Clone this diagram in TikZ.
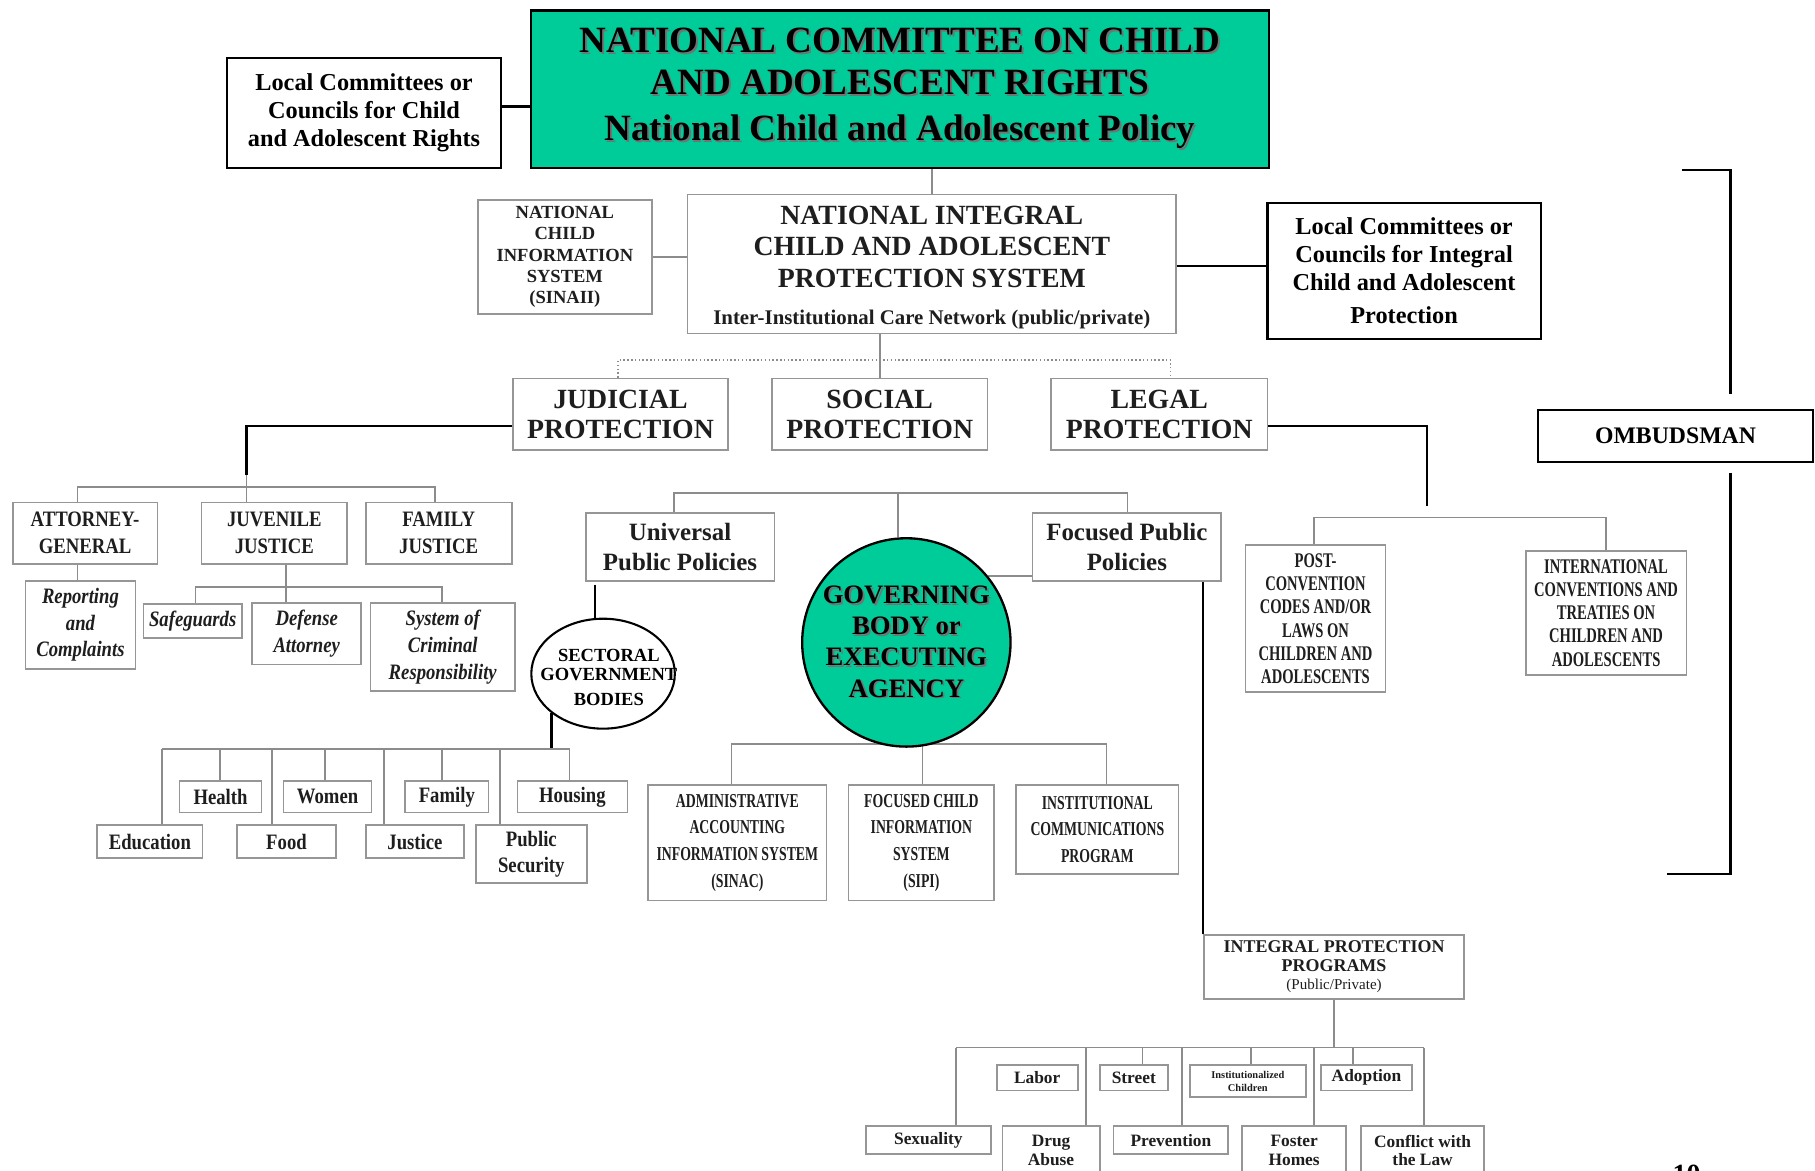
\documentclass[tikz,border=0pt]{standalone}
\usepackage{fontspec}
\setmainfont{Liberation Serif}
\newfontfamily\fcond[FakeStretch=0.85]{Liberation Serif}
\newfontfamily\fnar[FakeStretch=0.7]{Liberation Serif}
\usetikzlibrary{shapes.geometric,backgrounds}
\definecolor{teal1}{RGB}{0,204,153}
\definecolor{boxgray}{RGB}{150,150,150}
\definecolor{linegray}{RGB}{140,140,140}
\definecolor{txtdark}{RGB}{30,30,30}
\definecolor{shgray}{RGB}{115,115,115}
\newcommand\fs[2]{\fontsize{#1}{#2}\selectfont}
\newcommand\shd[1]{\leavevmode\rlap{\kern1.6pt\raisebox{-1.6pt}{\textcolor{shgray}{#1}}}#1}
\tikzset{
  gbox/.style={draw=boxgray, line width=1.5pt, fill=white, inner sep=0pt, align=center, text=txtdark},
  bbox/.style={draw=black, line width=1.8pt, fill=white, inner sep=0pt, align=center},
  gl/.style={draw=linegray, line width=1.5pt},
  blk/.style={draw=black, line width=2pt},
  gdot/.style={draw=linegray, line width=1.3pt, dotted},
  fprot/.style={font=\bfseries\fs{24}{26}},
  fjud/.style={font=\fcond\bfseries\fs{19}{23}},
  fjudi/.style={font=\fcond\bfseries\itshape\fs{19}{23}},
  fsec/.style={font=\fcond\bfseries\fs{19}{23}},
  fsys/.style={font=\fnar\bfseries\fs{17}{23}},
  flaw/.style={font=\fnar\bfseries\fs{18}{20}},
  fleaf/.style={font=\bfseries\fs{15}{16}},
  flocal/.style={font=\bfseries\fs{21}{24}},
}
\begin{document}
\begin{tikzpicture}[x=1pt,y=-1pt]
\useasboundingbox (0,0) rectangle (1568,1011);
\clip (0,0) rectangle (1568,1011);

% ---------- top level ----------
\node[draw=black, line width=2pt, fill=teal1, inner sep=0pt, align=center,
      minimum width=637pt, minimum height=136pt, font=\bfseries\fs{32}{36}] (top) at (777.5,77)
  {\shd{NATIONAL COMMITTEE ON CHILD}\\\shd{AND ADOLESCENT RIGHTS}\\[4pt]\shd{National Child and Adolescent Policy}};
\node[bbox, flocal, minimum width=237pt, minimum height=95pt] (lccl) at (314.5,97.5)
  {Local Committees or\\Councils for Child\\and Adolescent Rights};

\node[gbox, minimum width=422pt, minimum height=120pt, font=\bfseries\fs{24}{27.5}] (nips) at (805,228)
  {\rule{0pt}{22pt}NATIONAL INTEGRAL\\CHILD AND ADOLESCENT\\PROTECTION SYSTEM\\[4.5pt]{\fs{18}{22}Inter-Institutional Care Network (public/private)}};
\node[gbox, minimum width=150pt, minimum height=98pt, font=\bfseries\fs{16}{18.5}] (sinaii) at (488,222)
  {NATIONAL\\CHILD\\INFORMATION\\SYSTEM\\(SINAII)};
\node[bbox, flocal, minimum width=236pt, minimum height=118pt] (lccr) at (1213,234)
  {Local Committees or\\Councils for Integral\\Child and Adolescent\\[5pt]Protection};
\node[bbox, minimum width=237pt, minimum height=45pt, font=\bfseries\fs{20.5}{24}] (omb) at (1447.5,376.5) {OMBUDSMAN};

% ---------- protection level ----------
\node[gbox, fprot, minimum width=186pt, minimum height=62pt] (judicial) at (536,358) {JUDICIAL\\PROTECTION};
\node[gbox, fprot, minimum width=186pt, minimum height=62pt] (social) at (760,358) {SOCIAL\\PROTECTION};
\node[gbox, fprot, minimum width=187pt, minimum height=62pt] (legal) at (1001.5,358) {LEGAL\\PROTECTION};

% ---------- judicial subtree ----------
\node[gbox, fjud, minimum width=125pt, minimum height=53pt] (attorney) at (73.5,460.5) {ATTORNEY-\\GENERAL};
\node[gbox, fjud, minimum width=126pt, minimum height=53pt] (juvenile) at (237,460.5) {JUVENILE\\JUSTICE};
\node[gbox, fjud, minimum width=126pt, minimum height=53pt] (family) at (379,460.5) {FAMILY\\JUSTICE};
\node[gbox, fjudi, minimum width=95pt, minimum height=76pt] (reporting) at (69.5,540) {Reporting\\and\\Complaints};
\node[gbox, fjudi, minimum width=85pt, minimum height=29pt] (safeguards) at (166.5,536.5) {Safeguards};
\node[gbox, fjudi, minimum width=94pt, minimum height=53pt] (defense) at (265,547.5) {Defense\\Attorney};
\node[gbox, fjudi, minimum width=125pt, minimum height=76pt] (system) at (382.5,559) {System of\\Criminal\\Responsibility};

% ---------- policies ----------
\node[gbox, minimum width=163pt, minimum height=59pt, font=\bfseries\fs{21.5}{26}] (upp) at (587.5,472.5) {Universal\\Public Policies};
\node[gbox, minimum width=163pt, minimum height=59pt, font=\bfseries\fs{21.5}{26}] (fpp) at (973.5,472.5) {Focused Public\\Policies};
\node[draw=black, line width=2pt, fill=teal1, circle, minimum size=180pt, inner sep=0pt] (gov) at (783,555) {};
\node[align=center, inner sep=0pt, font=\bfseries\fs{23}{27}] (govtxt) at (gov.center)
  {\shd{GOVERNING}\\\shd{BODY or}\\\shd{EXECUTING}\\\shd{AGENCY}};
\node[draw=black, line width=1.8pt, fill=white, ellipse, minimum width=124pt, minimum height=95pt, inner sep=0pt] (sect) at (521,582) {};
\node[align=center, inner sep=0pt, font=\bfseries\fs{16}{17}] (secttxt) at ([xshift=5pt,yshift=-3pt]sect.center) {SECTORAL\\GOVERNMENT\\[4pt]BODIES};

% ---------- sectoral leaves ----------
\node[gbox, fsec, minimum width=71pt, minimum height=27pt] (health) at (190.5,688.5) {Health};
\node[gbox, fsec, minimum width=76pt, minimum height=27pt] (women) at (283,688.5) {Women};
\node[gbox, fsec, minimum width=72pt, minimum height=27pt] (famsec) at (386,688.5) {Family};
\node[gbox, fsec, minimum width=95pt, minimum height=27pt] (housing) at (494.5,688.5) {Housing};
\node[gbox, fsec, minimum width=91pt, minimum height=28pt] (education) at (129.5,727) {Education};
\node[gbox, fsec, minimum width=85pt, minimum height=28pt] (food) at (247.5,727) {Food};
\node[gbox, fsec, minimum width=85pt, minimum height=28pt] (justice) at (358.5,727) {Justice};
\node[gbox, fsec, minimum width=96pt, minimum height=50pt] (pubsec) at (459,738) {Public\\Security};

% ---------- information systems ----------
\node[gbox, fsys, minimum width=154pt, minimum height=100pt] (admin) at (637,728) {ADMINISTRATIVE\\ACCOUNTING\\INFORMATION SYSTEM\\(SINAC)};
\node[gbox, fsys, minimum width=126pt, minimum height=100pt] (fcis) at (796,728) {FOCUSED CHILD\\INFORMATION\\SYSTEM\\(SIPI)};
\node[gbox, fsys, minimum width=140pt, minimum height=77pt] (inst) at (948,716.5) {INSTITUTIONAL\\COMMUNICATIONS\\PROGRAM};

% ---------- legal subtree ----------
\node[gbox, flaw, minimum width=121pt, minimum height=127pt] (post) at (1136.5,534.5) {POST-\\CONVENTION\\CODES AND/OR\\LAWS ON\\CHILDREN AND\\ADOLESCENTS};
\node[gbox, flaw, minimum width=139pt, minimum height=107pt] (intl) at (1387.5,529.5) {INTERNATIONAL\\CONVENTIONS AND\\TREATIES ON\\CHILDREN AND\\ADOLESCENTS};

% ---------- integral protection programs ----------
\node[gbox, minimum width=225pt, minimum height=55pt, font=\bfseries\fs{15.5}{16}] (ipp) at (1152.5,835.5)
  {INTEGRAL PROTECTION\\PROGRAMS\\{\mdseries\fs{13}{16}(Public/Private)}};
\node[gbox, fleaf, minimum width=70pt, minimum height=22pt] (labor) at (896,931) {Labor};
\node[gbox, fleaf, minimum width=59pt, minimum height=22pt] (street) at (979.5,931) {Street};
\node[gbox, minimum width=100pt, minimum height=28pt, font=\bfseries\fs{9}{11}] (inst2) at (1078,934) {Institutionalized\\Children};
\node[gbox, fleaf, minimum width=79pt, minimum height=22pt] (adopt) at (1180.5,931) {Adoption};
\node[gbox, fleaf, minimum width=108pt, minimum height=24pt] (sex) at (802,985) {Sexuality};
\node[gbox, fleaf, minimum width=84pt, minimum height=42pt] (drug) at (908,994) {Drug\\Abuse};
\node[gbox, fleaf, minimum width=99pt, minimum height=24pt] (prev) at (1011.5,985) {Prevention};
\node[gbox, fleaf, minimum width=90pt, minimum height=42pt] (foster) at (1118,994) {Foster\\Homes};
\node[gbox, fleaf, minimum width=106pt, minimum height=42pt] (conf) at (1229,994) {Conflict with\\the Law};

\node[anchor=north, inner sep=0pt, font=\bfseries\fs{24}{24}] (pnum) at (1457,1006) {10};

% ---------- connectors ----------
\coordinate (ob1) at (1453,147);
\coordinate (ob2) at (1495,340);
\coordinate (ob3) at (1495,409);
\coordinate (ob4) at (1440,755);
\coordinate (dotl) at (0,311);
\coordinate (jc) at (213,410);
\coordinate (jbar) at (213,421);
\coordinate (jbar2) at (247,507);
\coordinate (s1) at (514,505);
\coordinate (sbarL) at (140,647);
\coordinate (sbarR) at (492,647);
\coordinate (pbar) at (776,426);
\coordinate (gbar) at (797,643);
\coordinate (lc) at (1233,437);
\coordinate (lbar) at (1233,447);
\coordinate (ibar) at (1152,905);

\begin{scope}[on background layer]
\fill[white] (0,0) rectangle (1568,1011);
\draw[blk] ([yshift=5.5pt]lccl.east) -- ([yshift=5.5pt]lccl.east -| top.west);
\draw[gl] (nips.north) -- (nips.north |- top.south);
\draw[gl] (sinaii.east) -- (sinaii.east -| nips.west);
\draw[blk] ([yshift=-2pt]nips.east) -- ([yshift=-2pt]nips.east -| lccr.west);
\draw[blk] (ob1) -| (ob2);
\draw[blk] (ob3) |- (ob4);
\draw[gl] (social.north) -- (social.north |- nips.south);
\draw[gdot] ([xshift=-2pt]judicial.north) -- ([xshift=-2pt]judicial.north |- dotl) -- ([xshift=9.5pt]legal.north |- dotl) -- ([xshift=9.5pt]legal.north);
% judicial
\draw[blk] ([yshift=-10pt]judicial.west) -| (jc);
\draw[gl] (jc) -- (jc |- juvenile.north);
\draw[gl] ([xshift=-6.5pt]attorney.north) -- ([xshift=-6.5pt]attorney.north |- jbar) -- ([xshift=-3pt]family.north |- jbar) -- ([xshift=-3pt]family.north);
\draw[gl] ([xshift=-2.5pt]reporting.north) -- ([xshift=-2.5pt]reporting.north |- attorney.south);
\draw[gl] (juvenile.south -| jbar2) -- (defense.north -| jbar2);
\draw[gl] ([xshift=2.5pt]safeguards.north) -- ([xshift=2.5pt]safeguards.north |- jbar2) -- ([xshift=-0.5pt]system.north |- jbar2) -- ([xshift=-0.5pt]system.north);
% sectoral
\draw[blk] (s1) -- (s1 |- sect.north);
\draw[blk] (sect.south west) -- (sect.south west |- sbarL);
\draw[gl] (sbarL) -- (sbarR);
\foreach \n/\dx in {education/10.5, health/-0.5, food/-12.5, women/-2, justice/-26.5, famsec/-4, pubsec/-27, housing/-2.5}
  \draw[gl] ([xshift=\dx pt]\n.north) -- ([xshift=\dx pt]\n.north |- sbarL);
% policies
\draw[gl] ([xshift=-5.5pt]upp.north) -- ([xshift=-5.5pt]upp.north |- pbar) -- ([xshift=0.5pt]fpp.north |- pbar) -- ([xshift=0.5pt]fpp.north);
\draw[gl] (pbar) -- (pbar |- gov.north);
\draw[gl] (gov.39) -- (gov.39 -| fpp.west);
\draw[blk] (ipp.north west) -- (ipp.north west |- fpp.south);
% information systems
\draw[gl] ([xshift=-5pt]admin.north) -- ([xshift=-5pt]admin.north |- gbar) -- ([xshift=8pt]inst.north |- gbar) -- ([xshift=8pt]inst.north);
\draw[gl] ([xshift=1pt]fcis.north) -- ([xshift=1pt]fcis.north |- gbar);
% legal
\draw[blk] ([yshift=-10pt]legal.east) -| (lc);
\draw[gl] ([xshift=-1.5pt]post.north) -- ([xshift=-1.5pt]post.north |- lbar) -- (intl.north |- lbar) -- (intl.north);
% integral protection programs
\draw[gl] (ipp.south) -- (ipp.south |- ibar);
\draw[gl] ([xshift=24pt]sex.north |- ibar) -- ([xshift=1pt]conf.north |- ibar);
\foreach \n/\dx in {sex/24, drug/30, street/7.5, prev/9.5, inst2/3, foster/17, adopt/-11.5, conf/1}
  \draw[gl] ([xshift=\dx pt]\n.north) -- ([xshift=\dx pt]\n.north |- ibar);
\end{scope}
\end{tikzpicture}
\end{document}
